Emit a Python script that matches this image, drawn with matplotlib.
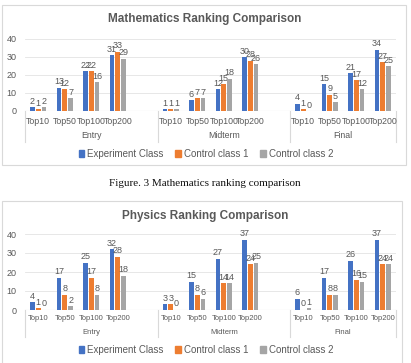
import matplotlib
matplotlib.use("Agg")
import matplotlib.pyplot as plt
import matplotlib.transforms as mtransforms
from matplotlib.patches import Rectangle
import numpy as np

plt.rcParams["font.family"] = ["Liberation Sans", "DejaVu Sans"]

groups = ["Entry", "Midterm", "Final"]
ranks = ["Top10", "Top50", "Top100", "Top200"]
series = ["Experiment Class", "Control class 1", "Control class 2"]
colours = ["#4472C4", "#ED7D31", "#A5A5A5"]

# values per group, rank order Top10..Top200
math_exp = [[2, 13, 22, 31], [1, 6, 12, 30], [4, 15, 21, 34]]
math_c1 = [[1, 12, 22, 33], [1, 7, 15, 28], [1, 9, 17, 27]]
math_c2 = [[2, 7, 16, 29], [1, 7, 18, 26], [0, 5, 12, 25]]

phys_exp = [[4, 17, 25, 32], [3, 15, 27, 37], [6, 17, 26, 37]]
phys_c1 = [[1, 8, 17, 28], [3, 8, 14, 24], [0, 8, 16, 24]]
phys_c2 = [[0, 2, 8, 18], [0, 6, 14, 25], [1, 8, 15, 24]]

W, H = 411, 363
fig = plt.figure(figsize=(W / 100, H / 100), dpi=100)
fig.patch.set_facecolor("white")


def fy(p):
    return (H - p) / H


def fx(p):
    return p / W


def draw_chart(box, title, title_y, axis_y, top_y, data, lab_y, grp_y, sep_y, leg_y, tick_fs):
    x0, y0, x1, y1 = box
    fig.patches.append(Rectangle((fx(x0), fy(y1)), fx(x1 - x0), (y1 - y0) / H,
                                 transform=fig.transFigure, fill=False,
                                 edgecolor="#D9D9D9", lw=0.8))
    fig.text(fx(205), fy(title_y), title, ha="center", va="center",
             fontsize=8.5, fontweight="bold", color="#595959")

    left, right = 25, 396
    ax = fig.add_axes([fx(left), fy(axis_y), fx(right - left), (axis_y - top_y) / H])
    ax.set_xlim(-0.5, 13.5)
    ax.set_ylim(0, 40)
    ax.set_yticks([0, 10, 20, 30, 40])
    ax.tick_params(axis="y", length=0, labelsize=6.5, labelcolor="#595959", pad=6)
    ax.set_xticks([])
    for s in ax.spines.values():
        s.set_visible(False)
    ax.grid(axis="y", color="#E3E3E3", lw=0.6)
    ax.axhline(0, color="#D0D0D0", lw=0.8)
    ax.set_axisbelow(True)

    trans = mtransforms.blended_transform_factory(ax.transData, fig.transFigure)
    offs = [-0.22, 0, 0.22]
    for g in range(3):
        base = g * 5
        for r in range(4):
            slot = base + r
            for k in range(3):
                v = data[k][g][r]
                xb = slot + offs[k]
                ax.bar(xb, v, width=0.18, color=colours[k], zorder=3)
                ax.text(xb, v + 0.8, str(v), ha="center", va="bottom",
                        fontsize=6.5, color="#595959")
            ax.text(slot, fy(lab_y), ranks[r], transform=trans, ha="center",
                    va="center", fontsize=tick_fs, color="#595959")
        gc = base + 2 if g < 2 else base + 1.5
        ax.text(gc, fy(grp_y), groups[g], transform=trans, ha="center",
                va="center", fontsize=tick_fs, color="#595959")
    for xs in [-0.5, 4.5, 9.5, 13.5]:
        ax.plot([xs, xs], [fy(axis_y), fy(sep_y)], transform=trans,
                color="#D9D9D9", lw=0.8, clip_on=False)

    handles = [Rectangle((0, 0), 1, 1, color=c) for c in colours]
    fig.legend(handles, series, loc="center", bbox_to_anchor=(fx(206), fy(leg_y)),
               ncol=3, frameon=False, fontsize=7, handlelength=0.6,
               handleheight=0.6, handletextpad=0.3, columnspacing=1.2,
               labelcolor="#595959")
    return ax


draw_chart((2, 4.5, 406, 165), "Mathematics Ranking Comparison", 19, 111, 39,
           [math_exp, math_c1, math_c2], 121, 136, 142, 154, 6.3)

fig.text(fx(205), fy(184), "Figure. 3 Mathematics ranking comparison",
         ha="center", va="center", fontsize=8, family="Liberation Serif",
         color="#111111")

draw_chart((2, 200.5, 402, 370), "Physics Ranking Comparison", 216, 310, 234,
           [phys_exp, phys_c1, phys_c2], 318, 332, 337, 350, 5.5)

fig.savefig("out.png", dpi=100)
